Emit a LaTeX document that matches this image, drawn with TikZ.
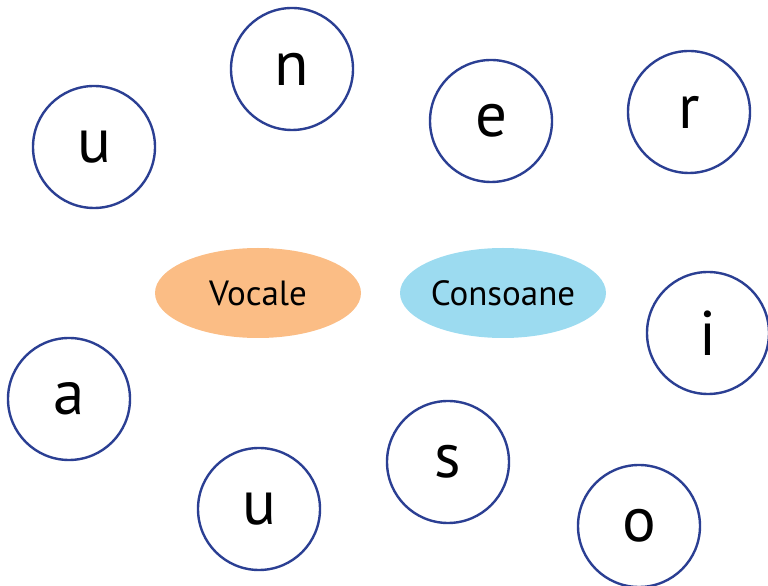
\documentclass[tikz,border=0pt]{standalone}
\usepackage{fontspec}
\setmainfont{PT Sans}
\usetikzlibrary{shapes.geometric}
\definecolor{ring}{HTML}{2B3F93}
\definecolor{vocfill}{HTML}{FBBD85}
\definecolor{consfill}{HTML}{9CDBF0}
\begin{document}
\begin{tikzpicture}[x=1pt,y=1pt,
  letter/.style={circle,draw=ring,line width=2.4pt,fill=white,minimum size=122pt,inner sep=0pt,font=\fontsize{63}{63}\selectfont},
  group/.style={ellipse,minimum width=206pt,minimum height=90pt,inner sep=0pt,font=\fontsize{35}{35}\selectfont}]
\clip (0,0) rectangle (768,586);
\useasboundingbox (0,0) rectangle (768,586);
\node[letter] (u1) at (94,439) {u};
\node[letter] (n) at (292,517) {n};
\node[letter] (e) at (491,465) {e};
\node[letter] (r) at (689,474) {r};
\node[letter] (i) at (708,253) {i};
\node[letter] (a) at (69,187) {a};
\node[letter] (u2) at (259,77) {u};
\node[letter] (s) at (448,124) {s};
\node[letter] (o) at (639,60) {o};
\node[group,fill=vocfill] (voc) at (258,293) {Vocale};
\node[group,fill=consfill] (cons) at (503,293) {Consoane};
\end{tikzpicture}
\end{document}
